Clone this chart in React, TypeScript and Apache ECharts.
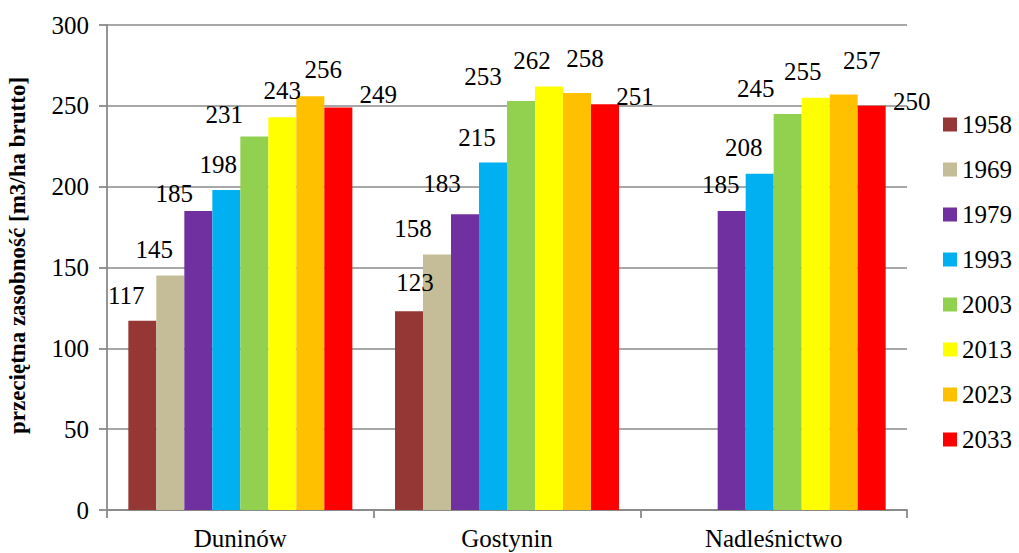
import React, { useEffect, useRef } from "react";
import * as echarts from "echarts";

const categories = ["Duninów", "Gostynin", "Nadleśnictwo"];
const years = ["1958", "1969", "1979", "1993", "2003", "2013", "2023", "2033"];

const v1958 = [117, 123, null];
const v1969 = [145, 158, null];
const v1979 = [185, 183, 185];
const v1993 = [198, 215, 208];
const v2003 = [231, 253, 245];
const v2013 = [243, 262, 255];
const v2023 = [256, 258, 257];
const v2033 = [249, 251, 250];

const seriesValues = [v1958, v1969, v1979, v1993, v2003, v2013, v2023, v2033];

const colors = ["#953735", "#C4BD97", "#7030A0", "#00B0F0", "#92D050", "#FFFF00", "#FFC000", "#FF0000"];

// label nudges (style only): [dx, dy] per series, per category
const labelNudge: number[][][] = [
  [[-16, -13], [6, -16], [0, 0]],
  [[-16, -14], [-24, -14], [0, 0]],
  [[-24, -5], [-23, -18], [-11, -14]],
  [[-8, -13], [-16, -12], [-16, -14]],
  [[-30, -10], [-38, -12], [-32, -13]],
  [[0, -14], [-17, -13], [-13, -14]],
  [[13, -14], [8, -22], [18, -22]],
  [[40, 0], [30, 5], [40, 8]],
];

const FONT = "Liberation Serif";
const GRAY = "#8a8a8a";

export default function App() {
  const ref = useRef<HTMLDivElement>(null);
  useEffect(() => {
    if (!ref.current) return;
    const chart = echarts.init(ref.current, undefined, { renderer: "svg" });
    const series = years.map((y, si) => ({
      name: y,
      type: "bar",
      barGap: "0%",
      barCategoryGap: "16%",
      itemStyle: { color: colors[si] },
      data: seriesValues[si].map((v, ci) => ({
        value: v,
        label: { offset: labelNudge[si][ci] },
      })),
      label: {
        show: true,
        position: "top",
        distance: 0,
        fontSize: 25,
        lineHeight: 25,
        fontFamily: FONT,
        color: "#000",
        formatter: (p: any) => (p.value == null ? "" : String(p.value)),
      },
    }));
    chart.setOption({
      animation: false,
      backgroundColor: "#fff",
      textStyle: { fontFamily: FONT },
      grid: {
        left: 107,
        right: 112,
        top: 25,
        bottom: 43,
        containLabel: false,
        outerBoundsMode: "none",
      },
      legend: {
        orient: "vertical",
        left: 938,
        top: 107,
        itemWidth: 14,
        itemHeight: 14,
        itemGap: 20,
        icon: "rect",
        textStyle: { fontSize: 25, lineHeight: 25, fontFamily: FONT, color: "#000" },
        data: years,
      },
      xAxis: {
        type: "category",
        data: categories,
        axisLine: { show: true, lineStyle: { color: GRAY, width: 1.8 } },
        axisTick: { show: true, length: 8, lineStyle: { color: GRAY, width: 1.8 } },
        axisLabel: { fontSize: 25, fontFamily: FONT, color: "#000", margin: 16 },
      },
      yAxis: {
        type: "value",
        min: 0,
        max: 300,
        interval: 50,
        name: "przeciętna zasobność [m3/ha brutto]",
        nameLocation: "middle",
        nameRotate: 90,
        nameGap: 78,
        nameTextStyle: {
          fontSize: 23,
          fontWeight: "bold",
          fontFamily: FONT,
          color: "#000",
          padding: [0, 0, 0, 24],
        },
        axisLine: { show: true, lineStyle: { color: GRAY, width: 1.8 } },
        axisTick: { show: true, length: 8, lineStyle: { color: GRAY, width: 1.8 } },
        axisLabel: { fontSize: 25, fontFamily: FONT, color: "#000", margin: 18 },
        splitLine: { show: true, lineStyle: { color: GRAY, width: 1.5 } },
      },
      series,
    });
    return () => chart.dispose();
  }, []);
  return (
    <div
      ref={ref}
      style={{ position: "fixed", left: 0, top: 0, width: 1019, height: 553 }}
    />
  );
}
